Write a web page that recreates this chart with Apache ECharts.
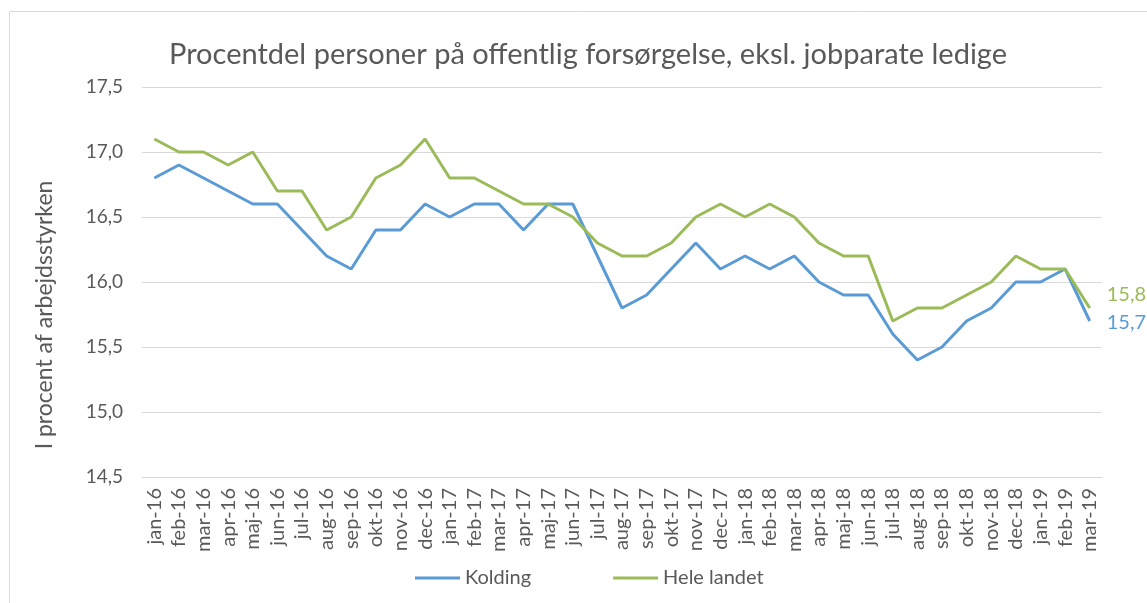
<!DOCTYPE html>
<html>
<head>
<meta charset="utf-8">
<script src="https://cdn.jsdelivr.net/npm/echarts@6/dist/echarts.min.js"></script>
<style>
html,body{margin:0;padding:0;background:#fff;}
#chart{width:1147px;height:603px;}
</style>
</head>
<body>
<div id="chart"></div>
<script>
const months = ['jan-16','feb-16','mar-16','apr-16','maj-16','jun-16','jul-16','aug-16','sep-16','okt-16','nov-16','dec-16',
  'jan-17','feb-17','mar-17','apr-17','maj-17','jun-17','jul-17','aug-17','sep-17','okt-17','nov-17','dec-17',
  'jan-18','feb-18','mar-18','apr-18','maj-18','jun-18','jul-18','aug-18','sep-18','okt-18','nov-18','dec-18',
  'jan-19','feb-19','mar-19'];
const kolding = [16.8,16.9,16.8,16.7,16.6,16.6,16.4,16.2,16.1,16.4,16.4,16.6,
  16.5,16.6,16.6,16.4,16.6,16.6,16.2,15.8,15.9,16.1,16.3,16.1,
  16.2,16.1,16.2,16.0,15.9,15.9,15.6,15.4,15.5,15.7,15.8,16.0,
  16.0,16.1,15.7];
const heleLandet = [17.1,17.0,17.0,16.9,17.0,16.7,16.7,16.4,16.5,16.8,16.9,17.1,
  16.8,16.8,16.7,16.6,16.6,16.5,16.3,16.2,16.2,16.3,16.5,16.6,
  16.5,16.6,16.5,16.3,16.2,16.2,15.7,15.8,15.8,15.9,16.0,16.2,
  16.1,16.1,15.8];
const seriesNames = ['Kolding','Hele landet'];
const titleText = 'Procentdel personer på offentlig forsørgelse, eksl. jobparate ledige';
const yAxisName = 'I procent af arbejdsstyrken';

const FONT = 'Lato, "Open Sans", sans-serif';
const TXT = '#595959';
const fmt = v => v.toFixed(1).replace('.', ',');

const chart = echarts.init(document.getElementById('chart'));
chart.setOption({
  backgroundColor: '#fff',
  animation: false,
  graphic: [{
    type: 'rect', shape: {x: 9.5, y: 11.5, width: 1200, height: 700},
    style: {fill: 'none', stroke: '#d9d9d9', lineWidth: 1}, silent: true, z: -1
  }],
  title: {
    text: titleText, left: 164, top: 35,
    textStyle: {fontFamily: FONT, fontSize: 29, fontWeight: 'normal', color: TXT}
  },
  legend: {
    bottom: 10, left: 410, itemWidth: 45, itemHeight: 3, itemGap: 82,
    icon: 'rect',
    textStyle: {fontFamily: FONT, fontSize: 20, color: TXT},
    data: seriesNames
  },
  grid: {left: 142, top: 87, width: 960, height: 390, containLabel: false},
  xAxis: {
    type: 'category', data: months, boundaryGap: true,
    axisLine: {lineStyle: {color: '#d9d9d9'}},
    axisTick: {show: false},
    axisLabel: {rotate: 90, margin: 11, interval: 0, fontFamily: FONT, fontSize: 20, color: TXT}
  },
  yAxis: {
    type: 'value', min: 14.5, max: 17.5, interval: 0.5,
    name: yAxisName, nameLocation: 'middle', nameGap: 86, nameRotate: 90,
    nameTextStyle: {fontFamily: FONT, fontSize: 23, color: TXT, padding: [0, 66, 0, 0]},
    axisLine: {show: false}, axisTick: {show: false},
    axisLabel: {margin: 19, fontFamily: FONT, fontSize: 19, color: TXT, formatter: fmt},
    splitLine: {lineStyle: {color: '#d9d9d9'}}
  },
  series: [
    {
      name: seriesNames[0], type: 'line', data: kolding, symbol: 'none',
      lineStyle: {color: '#5B9BD5', width: 3}, itemStyle: {color: '#5B9BD5'},
      endLabel: {show: true, distance: 17, offset: [0, 2], fontFamily: FONT, fontSize: 20, color: '#5B9BD5',
        formatter: p => fmt(p.value)}
    },
    {
      name: seriesNames[1], type: 'line', data: heleLandet, symbol: 'none',
      lineStyle: {color: '#9BBB59', width: 3}, itemStyle: {color: '#9BBB59'},
      endLabel: {show: true, distance: 17, offset: [0, -13], fontFamily: FONT, fontSize: 20, color: '#9BBB59',
        formatter: p => fmt(p.value)}
    }
  ]
});
</script>
</body>
</html>
